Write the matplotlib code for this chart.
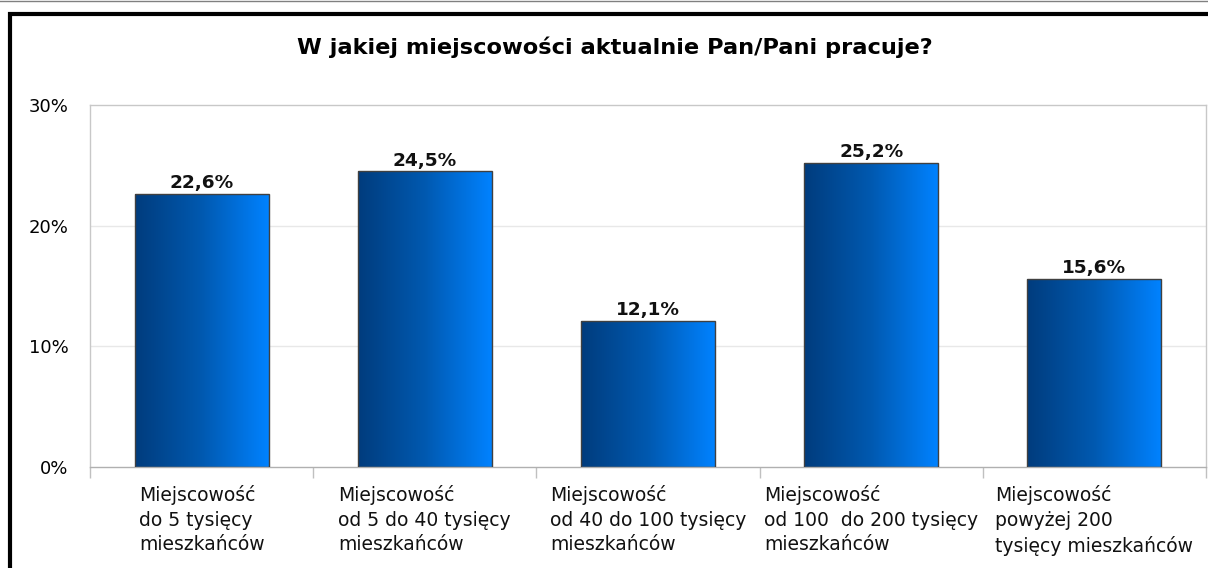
import numpy as np
import matplotlib
matplotlib.use('Agg')
import matplotlib.pyplot as plt
from matplotlib.patches import Rectangle
from matplotlib.lines import Line2D

plt.rcParams['font.family'] = ['DejaVu Sans']

title = 'W jakiej miejscowości aktualnie Pan/Pani pracuje?'
categories = ['Miejscowość\ndo 5 tysięcy\nmieszkańców',
              'Miejscowość\nod 5 do 40 tysięcy\nmieszkańców',
              'Miejscowość\nod 40 do 100 tysięcy\nmieszkańców',
              'Miejscowość\nod 100  do 200 tysięcy\nmieszkańców',
              'Miejscowość\npowyżej 200\ntysięcy mieszkańców']
values = [22.6, 24.5, 12.1, 25.2, 15.6]
yticks = [0, 10, 20, 30]

W, H = 1208, 568
fig = plt.figure(figsize=(W / 100, H / 100), dpi=100)
ax = fig.add_axes([90 / W, 1 - 467 / H, 1116 / W, 362 / H])

x = np.arange(len(values))
bw = 0.6
bars = ax.bar(x, values, width=bw, color='none', edgecolor='#404040',
              linewidth=1.0, zorder=3)

# horizontal gradient inside each bar
grad = np.linspace(0, 1, 256).reshape(1, -1)
cmap = matplotlib.colors.LinearSegmentedColormap.from_list(
    'blu', ['#003c7d', '#0059b0', '#0082ff'])
for b in bars:
    x0, y0 = b.get_x(), b.get_y()
    im = ax.imshow(grad, cmap=cmap, aspect='auto', zorder=2,
                   extent=[x0, x0 + b.get_width(), y0, y0 + b.get_height()])
    im.set_clip_path(b)

for xi, v in zip(x, values):
    ax.text(xi, v + 0.15, '{:.1f}%'.format(v).replace('.', ','),
            ha='center', va='bottom', fontsize=13.3, fontweight='bold',
            color='#111111', zorder=4)

ax.set_xlim(-0.5, len(values) - 0.5)
ax.set_ylim(0, 30)
ax.set_yticks(yticks)
ax.set_yticklabels(['{}%'.format(t) for t in yticks], fontsize=13)
ax.tick_params(axis='y', length=0, pad=15.5)
ax.set_xticks(np.arange(len(values) + 1) - 0.5)
ax.set_xticklabels([])
ax.tick_params(axis='x', length=8, color='#c0c0c0', width=1)
for t in yticks[1:3]:
    ax.axhline(t, color='#e8e8e8', linewidth=1, zorder=1)
for s in ax.spines.values():
    s.set_color('#c8c8c8')
    s.set_linewidth(1)
ax.spines['bottom'].set_color('#b0b0b0')

# category labels: block centred under the bar, lines left-aligned
for xi, lab in zip(x, categories):
    ax.text(xi, -0.05, lab, transform=ax.get_xaxis_transform(),
            ha='center', va='top', multialignment='left',
            fontsize=13.5, linespacing=1.37, color='#111111')

fig.text(615 / W, 1 - 47 / H, title, ha='center', va='center',
         fontsize=16.2, fontweight='bold')

# outer frame
fig.patches.append(Rectangle((9.5 / W, -0.05), 1.2, 1 - 13.5 / H + 0.05,
                             transform=fig.transFigure, fill=False,
                             edgecolor='black', linewidth=3))
fig.lines.append(Line2D([0, 1], [1 - 0.5 / H, 1 - 0.5 / H],
                        transform=fig.transFigure, color='#808080', linewidth=1))

fig.savefig('out.png', dpi=100)
